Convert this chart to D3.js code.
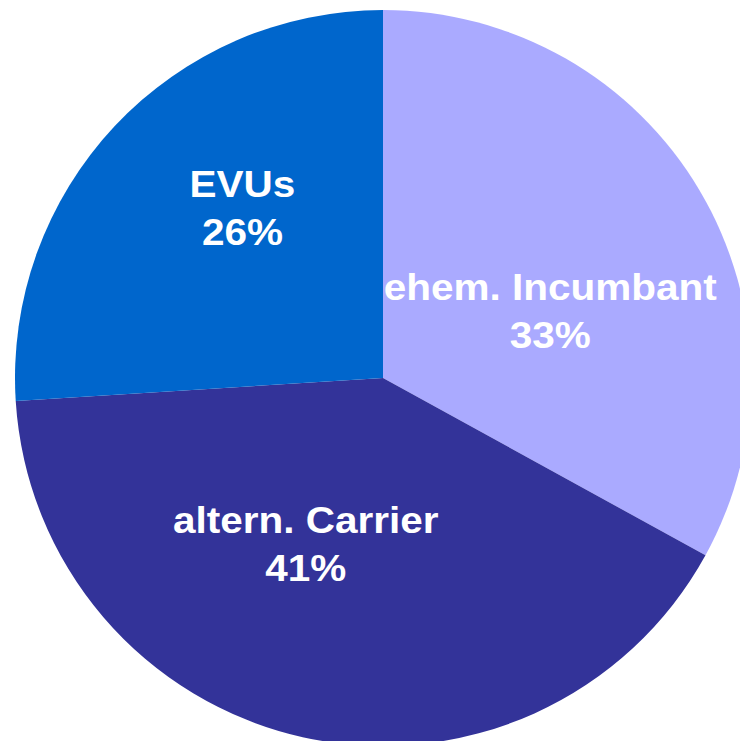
<!DOCTYPE html>
<html>
<head>
<meta charset="utf-8">
<script src="https://cdn.jsdelivr.net/npm/d3@7"></script>
<style>
  html, body { margin: 0; padding: 0; background: #fff; overflow: hidden; }
  svg { display: block; }
</style>
</head>
<body>
<svg id="chart" width="740" height="741"></svg>
<script>
// Data, clockwise from 12 o'clock
var categories = ['ehem. Incumbant', 'altern. Carrier', 'EVUs'];
var shares = [33, 41, 26];
var colors = ['#AAAAFF', '#333399', '#0066CC'];

var CX = 383;
var CY = 378;
var RADIUS = 368;
var LABEL_RADIUS = RADIUS * 0.55;
// small hand nudges so labels sit where the original tool put them
var LABEL_NUDGE = [[-7, 49], [-33, -19], [7, -18]];

var svg = d3.select('#chart');

var pie = d3.pie()
    .sort(null)
    .value(function(d) { return d; });

var arcs = pie(shares);

var arc = d3.arc()
    .innerRadius(0)
    .outerRadius(RADIUS);

var labelArc = d3.arc()
    .innerRadius(LABEL_RADIUS)
    .outerRadius(LABEL_RADIUS);

var g = svg.append('g')
    .attr('transform', 'translate(' + CX + ',' + CY + ')');

// Slices
g.selectAll('path.slice')
    .data(arcs)
    .enter()
    .append('path')
    .attr('class', 'slice')
    .attr('d', arc)
    .style('fill', function(d, i) { return colors[i]; });

// Labels: name on the first line, percentage on the second
var labels = g.selectAll('g.label')
    .data(arcs)
    .enter()
    .append('g')
    .attr('class', 'label')
    .attr('transform', function(d, i) {
        var c = labelArc.centroid(d);
        return 'translate(' + (c[0] + LABEL_NUDGE[i][0]) + ',' + (c[1] + LABEL_NUDGE[i][1]) + ') scale(1.08,1)';
    });

labels.append('text')
    .attr('y', -24)
    .text(function(d, i) { return categories[i]; });

labels.append('text')
    .attr('y', 24)
    .text(function(d, i) { return shares[i] + '%'; });

labels.selectAll('text')
    .attr('text-anchor', 'middle')
    .style('font-family', '"Liberation Sans", Arial, Helvetica, sans-serif')
    .style('font-weight', 'bold')
    .style('font-size', '37.5px')
    .style('fill', '#ffffff');
</script>
</body>
</html>
